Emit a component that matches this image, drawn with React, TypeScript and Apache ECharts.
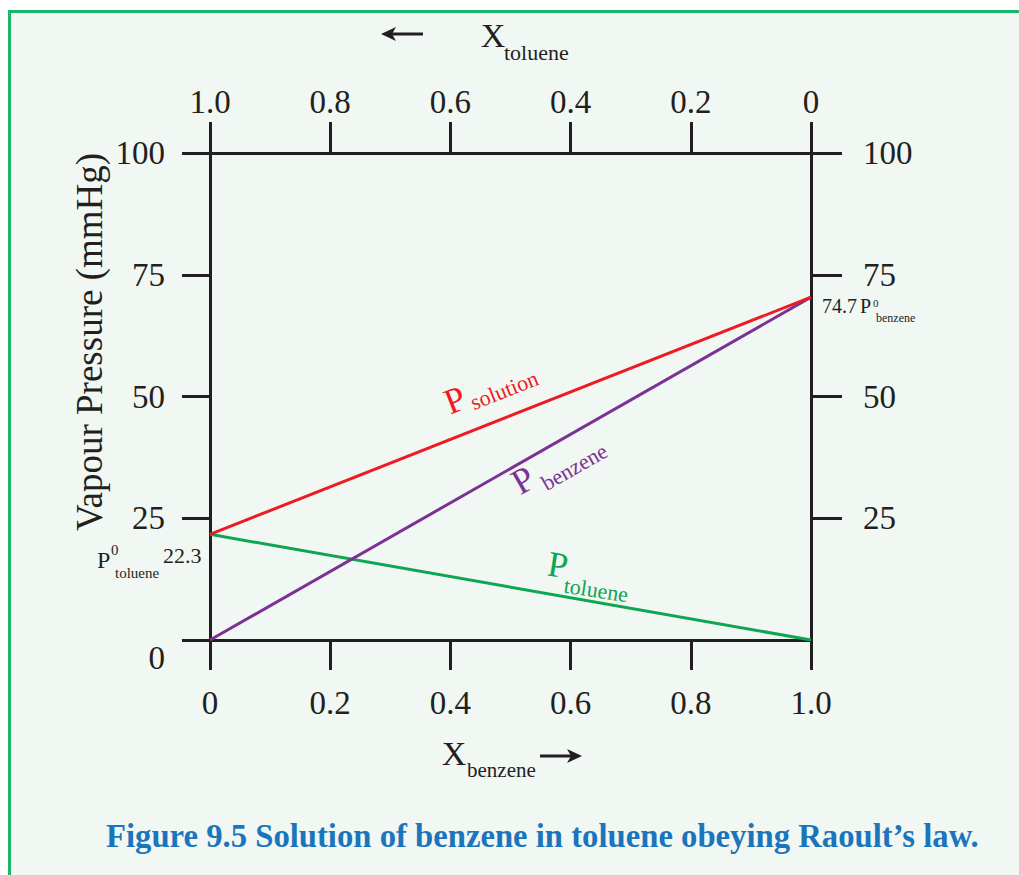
import React, { useEffect, useRef } from "react";
import * as echarts from "echarts";

// ---- data ----
const xBenzene = [0, 1];
const pBenzene = [0, 70.4];
const pToluene = [21.7, 0];
const pSolution = [21.7, 70.4];
const yTicksRight = [25, 50, 75, 100];

const SERIF = '"Liberation Serif", "DejaVu Serif", "Times New Roman", serif';
const INK = "#231f20";
const RED = "#ed1c24";
const PURPLE = "#7b3294";
const GREEN = "#0ea553";
const BLUE = "#1b75bc";
const BORDER = "#1db46b";

const fmtX = (v: number) => (v === 0 ? "0" : v === 1 ? "1.0" : v.toFixed(1));

function txt(text: string, x: number, y: number, fontSize: number, fill: string, align = "left", extra: any = {}) {
  return {
    type: "text",
    silent: true,
    x,
    y,
    style: { text, fill, font: `${fontSize}px ${SERIF}`, align, verticalAlign: "middle", ...extra },
  };
}

function lineLabel(cx: number, cy: number, rotDeg: number, sub: string, subDx: number, subDy: number, color: string) {
  return {
    type: "group",
    x: cx,
    y: cy,
    rotation: (rotDeg * Math.PI) / 180,
    silent: true,
    children: [txt("P", 0, 0, 36, color, "center"), txt(sub, subDx, subDy, 22, color, "left")],
  };
}

export default function App() {
  const ref = useRef<HTMLDivElement>(null);
  useEffect(() => {
    if (!ref.current) return;
    const chart = echarts.init(ref.current, null, { renderer: "svg" });
    const axisLine = { show: true, onZero: false, lineStyle: { color: INK, width: 3 } };
    const tickStyle = { color: INK, width: 3 };
    const labelBase = { fontSize: 33, fontFamily: SERIF, color: INK };
    const option: any = {
      animation: false,
      backgroundColor: "#f1f7f3",
      title: {
        text: "Figure 9.5 Solution of benzene in toluene obeying Raoult\u2019s law.",
        left: 101,
        top: 814,
        textStyle: { color: BLUE, fontSize: 32.7, fontWeight: "bold", fontFamily: SERIF },
      },
      grid: { left: 210, top: 153, width: 601, height: 487, containLabel: false },
      xAxis: [
        {
          type: "value",
          position: "bottom",
          min: 0,
          max: 1,
          interval: 0.2,
          axisLine,
          axisTick: { show: true, length: 30, lineStyle: tickStyle },
          axisLabel: { ...labelBase, margin: 46, formatter: fmtX },
          splitLine: { show: false },
        },
        {
          type: "value",
          position: "top",
          inverse: true,
          min: 0,
          max: 1,
          interval: 0.2,
          axisLine,
          axisTick: { show: true, length: 31, lineStyle: tickStyle },
          axisLabel: { ...labelBase, margin: 35, formatter: fmtX },
          splitLine: { show: false },
        },
      ],
      yAxis: [
        {
          type: "value",
          position: "left",
          min: 0,
          max: 100,
          interval: 25,
          axisLine,
          axisTick: { show: true, length: 28, lineStyle: tickStyle },
          axisLabel: {
            ...labelBase,
            margin: 45,
            formatter: (v: number) => (v === 0 ? "{z|0}" : String(v)),
            rich: { z: { ...labelBase, padding: [36, 0, 0, 0] } },
          },
          splitLine: { show: false },
        },
        {
          type: "value",
          position: "right",
          min: 0,
          max: 100,
          interval: 25,
          axisLine,
          axisTick: { show: true, length: 31, lineStyle: tickStyle, customValues: yTicksRight },
          axisLabel: { ...labelBase, margin: 52, customValues: yTicksRight },
          splitLine: { show: false },
        },
      ],
      series: [
        {
          type: "line",
          name: "P toluene",
          data: xBenzene.map((x, i) => [x, pToluene[i]]),
          symbol: "none",
          lineStyle: { color: GREEN, width: 3 },
        },
        {
          type: "line",
          name: "P benzene",
          data: xBenzene.map((x, i) => [x, pBenzene[i]]),
          symbol: "none",
          lineStyle: { color: PURPLE, width: 3 },
        },
        {
          type: "line",
          name: "P solution",
          data: xBenzene.map((x, i) => [x, pSolution[i]]),
          symbol: "none",
          lineStyle: { color: RED, width: 3 },
        },
      ],
      graphic: [
        { type: "rect", silent: true, shape: { x: 0, y: 0, width: 1019, height: 10 }, style: { fill: "#ffffff" } },
        { type: "rect", silent: true, shape: { x: 0, y: 0, width: 8, height: 875 }, style: { fill: "#ffffff" } },
        {
          type: "rect",
          silent: true,
          shape: { x: 9.5, y: 11.5, width: 1100, height: 1000 },
          style: { fill: "none", stroke: BORDER, lineWidth: 3 },
        },
        // Y axis name
        {
          type: "text",
          silent: true,
          x: 89,
          y: 342,
          rotation: Math.PI / 2,
          style: { text: "Vapour Pressure (mmHg)", fill: INK, font: `37px ${SERIF}`, align: "center", verticalAlign: "middle" },
        },
        // top axis name X_toluene with arrow
        { type: "line", silent: true, shape: { x1: 392, y1: 34, x2: 423, y2: 34 }, style: { stroke: INK, lineWidth: 3 } },
        { type: "polygon", silent: true, shape: { points: [[381, 34], [396, 27], [392, 34], [396, 41]] }, style: { fill: INK } },
        txt("X", 493, 35, 34, INK, "center"),
        txt("toluene", 504, 52, 22, INK, "left"),
        // bottom axis name X_benzene with arrow
        txt("X", 454, 753, 34, INK, "center"),
        txt("benzene", 467, 770, 21, INK, "left"),
        { type: "line", silent: true, shape: { x1: 540, y1: 756, x2: 571, y2: 756 }, style: { stroke: INK, lineWidth: 3 } },
        { type: "polygon", silent: true, shape: { points: [[582, 756], [567, 749], [571, 756], [567, 763]] }, style: { fill: INK } },
        // line labels
        lineLabel(455, 400, 21.5, "solution", 14, 9, RED),
        lineLabel(523, 480, 29.7, "benzene", 15, 14, PURPLE),
        lineLabel(558, 565, -8.6, "toluene", 9, 19, GREEN),
        // endpoint annotations
        txt("P", 97, 560, 24, INK, "left"),
        txt("0", 111, 550, 15, INK, "left"),
        txt("toluene", 115, 573, 15, INK, "left"),
        txt("22.3", 163, 555, 22, INK, "left"),
        txt("74.7", 822, 306, 20, INK, "left"),
        txt("P", 860, 306, 20, INK, "left"),
        txt("0", 873, 303, 11, INK, "left"),
        txt("benzene", 876, 318, 12, INK, "left"),
      ],
    };
    chart.setOption(option);
    return () => chart.dispose();
  }, []);
  return <div ref={ref} style={{ position: "absolute", left: 0, top: 0, width: 1019, height: 875 }} />;
}
